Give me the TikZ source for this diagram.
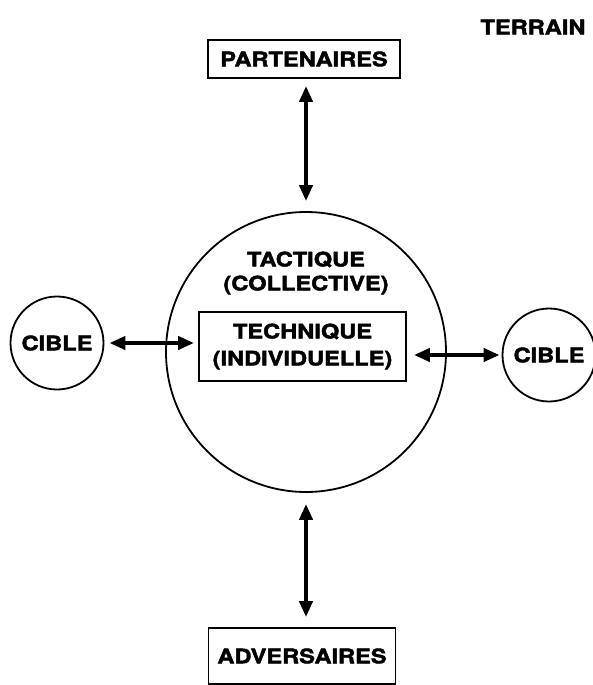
\documentclass[tikz,border=0pt]{standalone}
\usepackage{fontspec}
\newfontfamily\heavyfont[FakeStretch=1.18, BoldFeatures={FakeBold=2.2}]{TeX Gyre Heros}
\usetikzlibrary{arrows.meta}

\begin{document}
\begin{tikzpicture}[
    x=1pt, y=-1pt,
    >={Triangle[length=16pt, width=13pt]},
    boxnode/.style={draw, line width=1.8pt, rectangle, inner sep=0pt, font=\heavyfont\bfseries\fontsize{20}{27}\selectfont, align=center},
    ringnode/.style={draw, line width=1.8pt, circle, inner sep=0pt, font=\heavyfont\bfseries\fontsize{20}{27}\selectfont, align=center},
    labeltext/.style={inner sep=0pt, font=\heavyfont\bfseries\fontsize{20}{24}\selectfont, align=center},
    flow/.style={<->, line width=4pt, black}
]
    \useasboundingbox (0,0) rectangle (592,685);

    \node[ringnode, minimum size=280pt] (Tact)   at (306,352) {};
    \node[labeltext]                     (TactTxt) at (306,273) {TACTIQUE\\(COLLECTIVE)};
    \node[boxnode, minimum width=207pt, minimum height=69pt] (Tech) at (302.5,346.5) {TECHNIQUE\\(INDIVIDUELLE)};
    \node[boxnode, minimum width=192pt, minimum height=38pt] (Part) at (304,59) {PARTENAIRES};
    \node[boxnode, minimum width=187pt, minimum height=56pt] (Adv)  at (302,656) {ADVERSAIRES};
    \node[ringnode, minimum size=93pt]   (CibleL) at (57,343) {CIBLE};
    \node[ringnode, minimum size=93pt]   (CibleR) at (549,355) {CIBLE};
    \node[labeltext]                     (Terrain) at (533,27) {TERRAIN};

    \draw[flow, shorten <=7pt, shorten >=10pt] (Part.south -| Tact.north) -- (Tact.north);
    \draw[flow, shorten <=11pt, shorten >=10pt] (Tact.south) -- (Tact.south |- Adv.north);
    \draw[flow, shorten <=5pt, shorten >=4pt] (CibleL.east) -- (CibleL.east -| Tech.west);
    \draw[flow, shorten <=7pt, shorten >=2pt] (Tech.east |- CibleR.west) -- (CibleR.west);

\end{tikzpicture}
\end{document}
